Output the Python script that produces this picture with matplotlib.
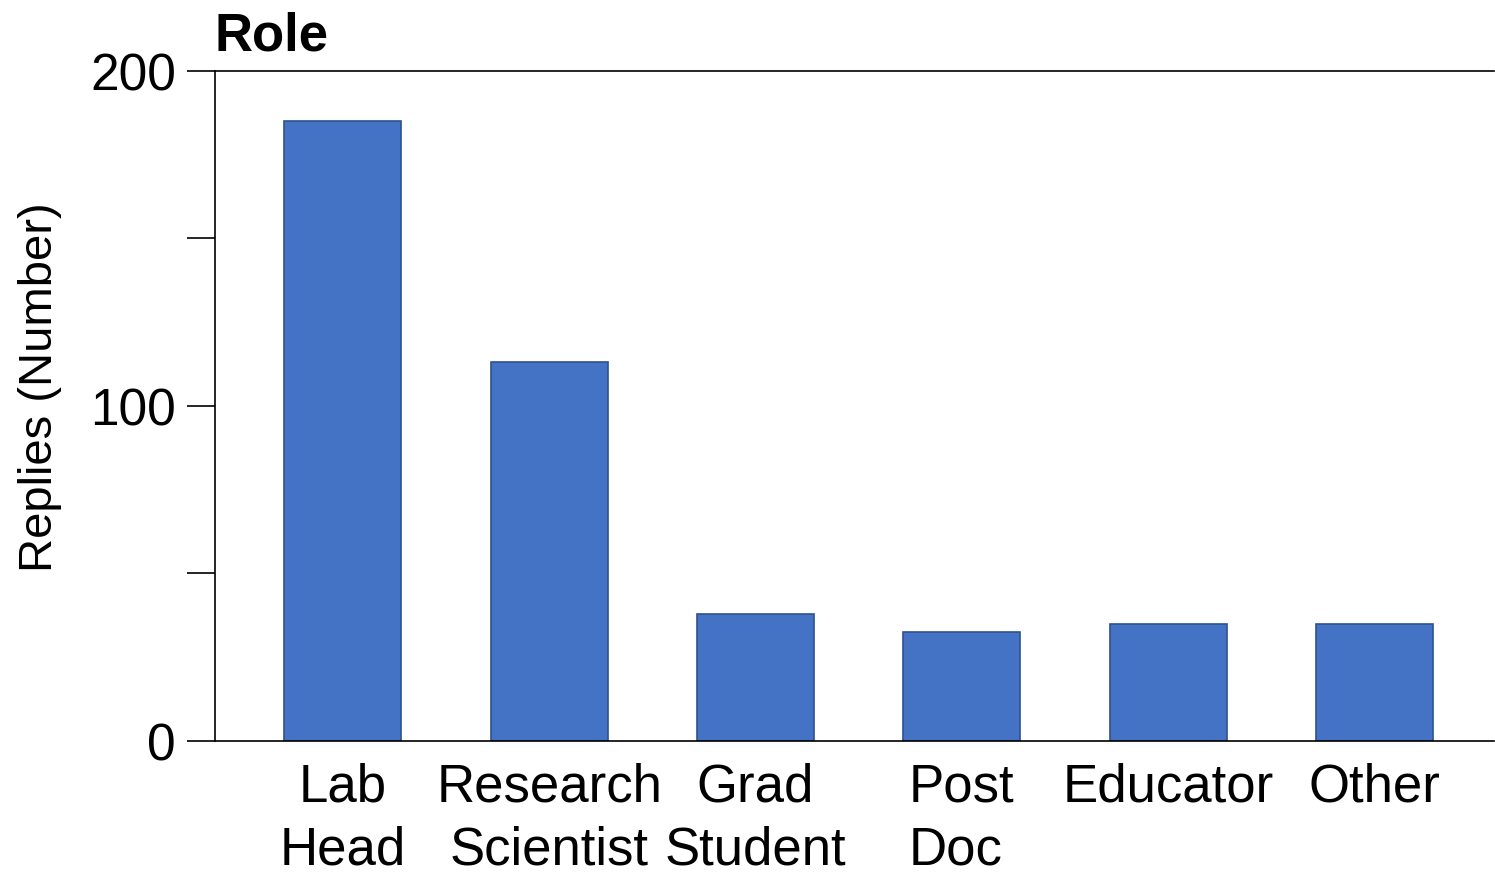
import matplotlib
matplotlib.use("Agg")
import matplotlib.pyplot as plt

roles = ['Lab\nHead', 'Research\nScientist', 'Grad\nStudent', 'Post\nDoc', 'Educator', 'Other']
replies = [185, 113, 38, 32.5, 35, 35]
y_ticks = [0, 50, 100, 150, 200]
y_tick_labels = ['0', '', '100', '', '200']

plt.rcParams['font.family'] = ['Liberation Sans', 'DejaVu Sans']

fig = plt.figure(figsize=(14.95, 8.78), dpi=100)
ax = fig.add_axes([0.1438, 0.1549, 0.8555, 0.7631])

x = list(range(len(roles)))
ax.bar(x, replies, width=0.567, color='#4472C4', edgecolor='#2F528F', linewidth=1.2)

ax.set_xlim(-0.62, 5.58)
ax.set_ylim(0, 200)
ax.set_yticks(y_ticks)
ax.set_yticklabels(y_tick_labels, fontsize=37)
ax.tick_params(axis='y', length=20, width=1.2, pad=8, direction='out')
ax.set_xticks(x)
ax.set_xticklabels(roles, fontsize=38, linespacing=1.33)
ax.tick_params(axis='x', length=0, pad=15)
ax.get_xticklabels()[3].set_multialignment('left')

for side in ['left', 'top', 'bottom']:
    ax.spines[side].set_linewidth(1.2)
ax.spines['right'].set_visible(False)

ax.set_ylabel('Replies (Number)', fontsize=34, labelpad=20, y=0.53)
ax.text(0.0, 1.016, 'Role', transform=ax.transAxes, fontsize=38,
        fontweight='bold', ha='left', va='bottom')

plt.savefig('out.png', dpi=100)
